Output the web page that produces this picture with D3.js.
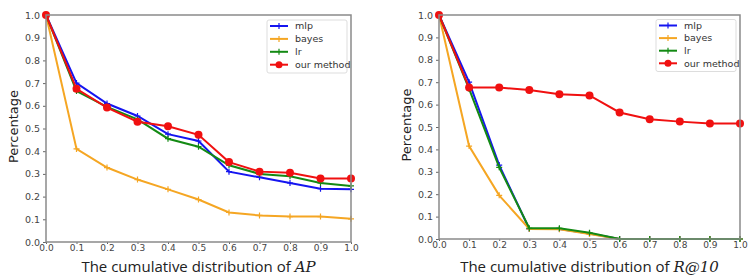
<!DOCTYPE html>
<html>
<head>
<meta charset="utf-8">
<script src="https://cdn.jsdelivr.net/npm/d3@7"></script>
<style>
  body { margin: 0; background: #fff; }
  text { font-family: "DejaVu Sans", sans-serif; }
</style>
</head>
<body>
<div id="chart"></div>
<script>
// x positions shared by both panels
const xs = [0, 0.1, 0.2, 0.3, 0.4, 0.5, 0.6, 0.7, 0.8, 0.9, 1.0];
const tickVals = [0, 0.1, 0.2, 0.3, 0.4, 0.5, 0.6, 0.7, 0.8, 0.9, 1.0];
const methods = ["mlp", "bayes", "lr", "our method"];

/* AP panel */
const apMlp   = [1.0, 0.70, 0.61, 0.555, 0.475, 0.445, 0.31, 0.285, 0.26, 0.235, 0.232];
const apBayes = [1.0, 0.41, 0.328, 0.275, 0.232, 0.187, 0.13, 0.117, 0.112, 0.112, 0.102];
const apLr    = [1.0, 0.665, 0.595, 0.54, 0.455, 0.42, 0.338, 0.30, 0.29, 0.26, 0.247];
const apOurs  = [1.0, 0.675, 0.592, 0.53, 0.51, 0.472, 0.352, 0.31, 0.305, 0.28, 0.28];

/* R@10 panel */
const rMlp   = [1.0, 0.70, 0.33, 0.045, 0.045, 0.025, 0, 0, 0, 0, 0];
const rBayes = [1.0, 0.415, 0.195, 0.045, 0.043, 0.022, 0, 0, 0, 0, 0];
const rLr    = [1.0, 0.67, 0.32, 0.048, 0.048, 0.028, 0, 0, 0, 0, 0];
const rOurs  = [1.0, 0.676, 0.676, 0.665, 0.646, 0.641, 0.565, 0.535, 0.524, 0.516, 0.516];

const colors = ["#1515f0", "#f5a623", "#138a13", "#f01010"];

const width = 756, height = 279;
const svg = d3.select("#chart").append("svg")
    .attr("width", width).attr("height", height);

function panel(box, series, xItalic, legendBox) {
    const x = d3.scaleLinear().domain([0, 1]).range([box.left, box.right]);
    const y = d3.scaleLinear().domain([0, 1]).range([box.bottom, box.top]);

    svg.append("g")
        .attr("transform", `translate(0,${box.bottom})`)
        .call(d3.axisBottom(x).tickValues(tickVals).tickFormat(d3.format(".1f")).tickSize(2).tickPadding(1))
        .call(g => g.select(".domain").remove())
        .call(g => g.selectAll("text").attr("font-size", 9).attr("fill", "#444"))
        .call(g => g.selectAll("line").attr("stroke", "#666"));

    svg.append("g")
        .attr("transform", `translate(${box.left},0)`)
        .call(d3.axisLeft(y).tickValues(tickVals).tickFormat(d3.format(".1f")).tickSize(3))
        .call(g => g.select(".domain").remove())
        .call(g => g.selectAll("text").attr("font-size", 9.5).attr("fill", "#444"))
        .call(g => g.selectAll("line").attr("stroke", "#666"));

    let line = d3.line().x((d, i) => x(xs[i])).y(d => y(d));

    series.forEach((s, k) => {
        svg.append("path")
            .datum(s)
            .attr("fill", "none")
            .attr("stroke", colors[k])
            .attr("stroke-width", 2)
            .attr("d", line);
        if (k == 3) {
            svg.selectAll(null).data(s).join("circle")
                .attr("cx", (d, i) => x(xs[i]))
                .attr("cy", d => y(d))
                .attr("r", 4)
                .attr("fill", colors[k]);
        } else {
            svg.selectAll(null).data(s).join("path")
                .attr("transform", (d, i) => `translate(${x(xs[i])},${y(d)})`)
                .attr("d", "M-3,0H3M0,-3V3")
                .attr("stroke", colors[k])
                .attr("stroke-width", 1.2);
        }
    });

    // frame
    svg.append("rect")
        .attr("x", box.left).attr("y", box.top)
        .attr("width", box.right - box.left)
        .attr("height", box.bottom - box.top)
        .attr("fill", "none")
        .attr("stroke", "#8a8a8a")
        .attr("stroke-width", 1.5);

    // legend
    const lg = svg.append("g");
    lg.append("rect")
        .attr("x", legendBox.x).attr("y", legendBox.y)
        .attr("width", legendBox.w).attr("height", legendBox.h)
        .attr("rx", 2)
        .attr("fill", "#fff")
        .attr("stroke", "#ddd");
    methods.forEach((m, k) => {
        let ly = legendBox.y + 6 + k * legendBox.step;
        let lx = legendBox.x + 3;
        lg.append("line")
            .attr("x1", lx).attr("x2", lx + 18)
            .attr("y1", ly).attr("y2", ly)
            .attr("stroke", colors[k]).attr("stroke-width", 2);
        if (k == 3) {
            lg.append("circle").attr("cx", lx + 9).attr("cy", ly).attr("r", 3.5).attr("fill", colors[k]);
        } else {
            lg.append("path").attr("d", `M${lx + 9},${ly - 3}V${ly + 3}`)
                .attr("stroke", colors[k]).attr("stroke-width", 1.2);
        }
        lg.append("text")
            .attr("x", lx + 25).attr("y", ly)
            .attr("dy", "0.35em")
            .attr("font-size", 9.5)
            .attr("fill", "#333")
            .text(m);
    });

    // y label
    svg.append("text")
        .attr("transform", `translate(${box.left - 28},${(box.top + box.bottom) / 2 - 2}) rotate(-90)`)
        .attr("text-anchor", "middle")
        .attr("font-size", 13)
        .attr("fill", "#222")
        .text("Percentage");

    // x label
    const xl = svg.append("text")
        .attr("x", (box.left + box.right) / 2)
        .attr("y", 272)
        .attr("text-anchor", "middle")
        .attr("font-size", 15)
        .attr("fill", "#222")
        .style("font-family", "'Open Sans', sans-serif");
    xl.append("tspan").text("The cumulative distribution of ");
    xl.append("tspan").attr("font-style", "italic").style("font-family", "'DejaVu Serif', serif").text(xItalic);
}

panel({ left: 46, right: 351, top: 15, bottom: 242 },
      [apMlp, apBayes, apLr, apOurs], "AP",
      { x: 267, y: 20, w: 80, h: 53, step: 12.9 });

panel({ left: 439, right: 740, top: 15, bottom: 239 },
      [rMlp, rBayes, rLr, rOurs], "R@10",
      { x: 656, y: 19.5, w: 80, h: 52, step: 12.6 });
</script>
</body>
</html>
